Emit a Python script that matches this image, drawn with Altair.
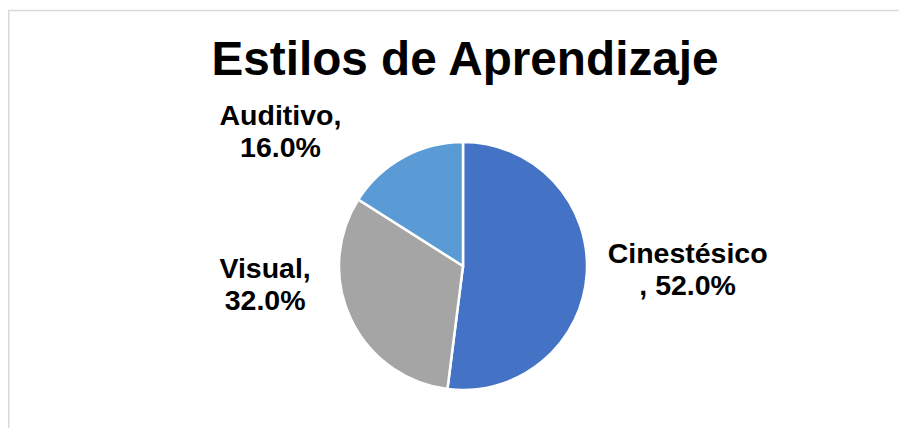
import altair as alt
import pandas as pd

title_text = "Estilos de Aprendizaje"
categories = ["Cinestésico", "Visual", "Auditivo"]
values = [52.0, 32.0, 16.0]
colors = ["#4472C4", "#A5A5A5", "#5B9BD5"]
break_before_comma = [True, False, False]
order = [0, 1, 2]

labels = [
    (f"{c}\n, {v:.1f}%" if b else f"{c},\n{v:.1f}%")
    for c, v, b in zip(categories, values, break_before_comma)
]

df = pd.DataFrame({
    "category": categories,
    "value": values,
    "label": labels,
    "order": order,
})

FONT = "Liberation Sans"
W, H = 872, 324

base = alt.Chart(df).transform_window(
    end="sum(value)", sort=[alt.SortField("order")], frame=[None, 0]
).transform_calculate(
    start="datum.end - datum.value",
    mid="datum.end - datum.value / 2",
)

theta_scale = alt.Scale(domain=[0, 100])

pie = base.mark_arc(radius=124, stroke="white", strokeWidth=2.5).encode(
    theta=alt.Theta("start:Q", scale=theta_scale),
    theta2="end:Q",
    color=alt.Color("category:N", scale=alt.Scale(domain=categories, range=colors), legend=None),
)

offsets = {
    "Cinestésico": (35, -24),
    "Visual": (-26, -78),
    "Auditivo": (-91, 16),
}

label_layers = []
for cat in categories:
    dx, dy = offsets[cat]
    label_layers.append(
        base.transform_filter(alt.datum.category == cat)
        .mark_text(
            radius=190, dx=dx, dy=dy, font=FONT, fontSize=28.5, fontWeight="bold",
            color="black", lineBreak="\n", lineHeight=32, align="center", baseline="middle",
        )
        .encode(
            theta=alt.Theta("mid:Q", scale=theta_scale),
            text="label:N",
        )
    )

title = alt.Chart(pd.DataFrame({"t": [title_text]})).mark_text(
    font=FONT, fontSize=47.7, fontWeight="bold", color="black",
    align="center", baseline="alphabetic",
).encode(text="t:N", x=alt.value(W / 2 + 2), y=alt.value(-29))

frame_df = pd.DataFrame({"k": [0]})
left_rule = alt.Chart(frame_df).mark_rule(color="#D9D9D9", strokeWidth=1.5).encode(
    x=alt.value(-18.25), y=alt.value(-94), y2=alt.value(H + 20)
)
top_rule = alt.Chart(frame_df).mark_rule(color="#D9D9D9", strokeWidth=1.5).encode(
    x=alt.value(-19), x2=alt.value(W + 20), y=alt.value(-93.5)
)

chart = alt.layer(left_rule, top_rule, pie, *label_layers, title).properties(
    width=W,
    height=H,
    padding={"left": 19, "top": 96, "right": 0, "bottom": 0},
    autosize="none",
    background="white",
).configure_view(stroke=None)

chart.save("out.html", embed_options={"renderer": "svg", "actions": False})
